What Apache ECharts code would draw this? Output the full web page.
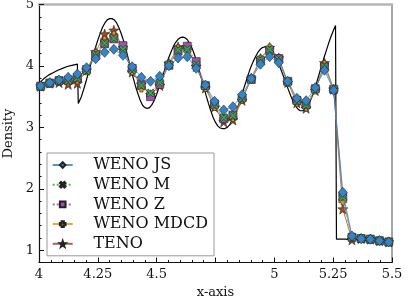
<!DOCTYPE html>
<html><head><meta charset="utf-8">
<script src="https://cdn.jsdelivr.net/npm/echarts@6/dist/echarts.min.js"></script>
<style>html,body{margin:0;padding:0;background:#fff}#c{width:415px;height:297px}</style>
</head><body><div id="c"></div>
<script>
const xs = [4.007,4.046,4.085,4.124,4.163,4.202,4.241,4.279,4.318,4.357,4.396,4.435,4.474,4.513,4.552,4.591,4.630,4.668,4.707,4.746,4.785,4.824,4.863,4.902,4.941,4.980,5.019,5.057,5.096,5.135,5.174,5.213,5.252,5.291,5.330,5.369,5.408,5.447,5.486];
const wenoJS = [3.673,3.727,3.771,3.815,3.869,3.971,4.118,4.222,4.271,4.173,3.987,3.815,3.750,3.831,4.004,4.129,4.150,3.961,3.690,3.424,3.283,3.336,3.532,3.792,4.027,4.150,4.053,3.750,3.473,3.434,3.646,3.929,3.603,1.943,1.231,1.187,1.178,1.155,1.134];
const wenoM = [3.67,3.72,3.76,3.76,3.80,3.92,4.19,4.37,4.45,4.27,3.93,3.68,3.56,3.73,4.02,4.26,4.27,4.02,3.67,3.36,3.16,3.19,3.47,3.78,4.10,4.27,4.11,3.74,3.43,3.36,3.62,3.99,3.62,1.86,1.21,1.19,1.18,1.155,1.135];
const wenoZ = [3.67,3.72,3.76,3.77,3.81,3.94,4.17,4.36,4.44,4.33,3.96,3.70,3.50,3.70,4.01,4.24,4.32,4.07,3.68,3.38,3.14,3.20,3.48,3.78,4.08,4.25,4.12,3.75,3.44,3.37,3.63,3.98,3.62,1.88,1.21,1.19,1.18,1.155,1.135];
const wenoMDCD = [3.67,3.72,3.75,3.74,3.77,3.92,4.20,4.42,4.50,4.28,3.92,3.64,3.52,3.70,4.03,4.28,4.29,4.00,3.65,3.34,3.13,3.16,3.46,3.79,4.11,4.29,4.12,3.73,3.41,3.33,3.61,4.02,3.62,1.80,1.20,1.19,1.18,1.155,1.135];
const teno = [3.67,3.72,3.73,3.70,3.717,3.93,4.23,4.52,4.58,4.30,3.90,3.70,3.53,3.68,4.04,4.31,4.31,3.99,3.64,3.33,3.09,3.12,3.44,3.80,4.12,4.30,4.13,3.73,3.40,3.31,3.60,4.05,3.62,1.67,1.17,1.19,1.18,1.155,1.135];
const exactX = [4.00,4.02,4.04,4.06,4.08,4.10,4.12,4.14,4.163,4.167,4.18,4.19,4.20,4.21,4.22,4.23,4.24,4.25,4.26,4.27,4.28,4.29,4.30,4.31,4.32,4.33,4.34,4.35,4.36,4.37,4.38,4.39,4.40,4.41,4.42,4.43,4.44,4.45,4.46,4.47,4.48,4.49,4.50,4.51,4.52,4.53,4.54,4.55,4.56,4.57,4.58,4.59,4.60,4.61,4.62,4.63,4.64,4.65,4.66,4.67,4.68,4.69,4.70,4.71,4.72,4.73,4.74,4.75,4.76,4.77,4.78,4.79,4.80,4.81,4.82,4.83,4.84,4.85,4.86,4.87,4.88,4.89,4.90,4.91,4.92,4.93,4.94,4.95,4.96,4.97,4.98,4.99,5.00,5.01,5.02,5.03,5.04,5.05,5.06,5.07,5.08,5.09,5.10,5.11,5.12,5.13,5.14,5.15,5.16,5.17,5.18,5.19,5.20,5.21,5.22,5.23,5.24,5.25,5.26,5.263,5.264,5.30,5.35,5.40,5.45,5.50];
const exactY = [3.72,3.79,3.85,3.89,3.93,3.96,3.99,4.01,4.03,3.39,3.50,3.62,3.75,3.89,4.03,4.17,4.30,4.42,4.53,4.63,4.70,4.75,4.77,4.77,4.75,4.70,4.62,4.52,4.40,4.26,4.11,3.96,3.81,3.67,3.55,3.44,3.36,3.32,3.31,3.32,3.37,3.44,3.54,3.65,3.77,3.89,4.01,4.12,4.22,4.31,4.38,4.43,4.46,4.47,4.46,4.43,4.37,4.29,4.19,4.07,3.94,3.80,3.66,3.52,3.39,3.27,3.16,3.08,3.02,2.99,2.98,2.98,3.00,3.04,3.10,3.18,3.28,3.39,3.51,3.63,3.75,3.87,3.98,4.07,4.15,4.22,4.27,4.30,4.31,4.31,4.29,4.25,4.19,4.11,4.02,3.92,3.82,3.71,3.61,3.51,3.42,3.35,3.30,3.27,3.27,3.29,3.34,3.41,3.50,3.61,3.73,3.86,3.99,4.12,4.24,4.36,4.47,4.57,4.66,4.69,1.18,1.18,1.17,1.16,1.15,1.14];
const xTickLabels = {'4':'4','4.25':'4.25','4.5':'4.5','4.75':'','5':'5','5.25':'5.25','5.5':'5.5'};
const yTickValues = [1,2,3,4,5];
const yMinorValues = [0.8,1.2,1.4,1.6,1.8,2.2,2.4,2.6,2.8,3.2,3.4,3.6,3.8,4.2,4.4,4.6,4.8];

const FONT = 'DejaVu Serif';
const pair = (a) => xs.map((x, i) => [x, a[i]]);
const STAR = 'path://M5,0 L6.18,3.38 L9.76,3.45 L6.9,5.62 L7.94,9.05 L5,7 L2.06,9.05 L3.1,5.62 L0.24,3.45 L3.82,3.38 Z';
const XMARK = 'path://M2,0 L5,3 L8,0 L10,2 L7,5 L10,8 L8,10 L5,7 L2,10 L0,8 L3,5 L0,2 Z';
const PLUS = 'path://M3,0 H7 V3 H10 V7 H7 V10 H3 V7 H0 V3 H3 Z';

function mk(name, data, color, symbol, size, ltype, z) {
  return {
    name, type: 'line', data: pair(data), symbol, symbolSize: size, z,
    showAllSymbol: true,
    itemStyle: {color, borderColor: '#222', borderWidth: 0.6},
    lineStyle: {color, width: 0.9, type: ltype, opacity: 0.85},
    emphasis: {disabled: true}, animation: false
  };
}

const chart = echarts.init(document.getElementById('c'), null, {renderer: 'canvas'});
chart.setOption({
  animation: false,
  backgroundColor: '#fff',
  grid: {left: 39, right: 23, top: 4.5, bottom: 34.5, containLabel: false, outerBoundsMode: 'none'},
  xAxis: [{
    type: 'value', min: 4, max: 5.5, interval: 0.25,
    name: 'x-axis', nameLocation: 'middle', nameGap: 16,
    nameTextStyle: {fontFamily: FONT, fontSize: 13, color: '#111'},
    axisLine: {lineStyle: {color: '#111', width: 1.2}},
    axisTick: {inside: true, length: 5, lineStyle: {color: '#111'}},
    minorTick: {show: true, splitNumber: 5, length: 2.5, lineStyle: {color: '#111'}},
    splitLine: {show: false},
    axisLabel: {fontFamily: FONT, fontSize: 13, color: '#111', margin: 6,
      formatter: v => { const k = String(+v.toFixed(2)); return k in xTickLabels ? xTickLabels[k] : k; }}
  }, {
    type: 'value', min: 4, max: 5.5, position: 'top',
    axisLine: {lineStyle: {color: '#b5b5b5', width: 2.5}},
    axisTick: {show: false}, axisLabel: {show: false}, splitLine: {show: false}
  }],
  yAxis: [{
    type: 'value', min: 0.8, max: 5,
    name: 'Density', nameLocation: 'middle', nameGap: 22,
    nameTextStyle: {fontFamily: FONT, fontSize: 13, color: '#111'},
    axisLine: {show: true, lineStyle: {color: '#111', width: 1.2}},
    axisTick: {show: true, inside: true, length: 5, customValues: yTickValues, lineStyle: {color: '#111'}},
    axisLabel: {fontFamily: FONT, fontSize: 13, color: '#111', margin: 5, customValues: yTickValues},
    splitLine: {show: false}
  }, {
    type: 'value', min: 0.8, max: 5, position: 'left',
    axisLine: {show: false},
    axisTick: {show: true, inside: true, length: 2.5, customValues: yMinorValues, lineStyle: {color: '#111'}},
    axisLabel: {show: false}, splitLine: {show: false}
  }, {
    type: 'value', min: 0.8, max: 5, position: 'right',
    axisLine: {show: true, lineStyle: {color: '#8a8a8a', width: 1.5}},
    axisTick: {show: false}, axisLabel: {show: false}, splitLine: {show: false}
  }],
  legend: {
    orient: 'vertical', left: 47, top: 153,
    data: ['WENO JS', 'WENO M', 'WENO Z', 'WENO MDCD', 'TENO'],
    itemWidth: 20, itemHeight: 7, itemGap: 3.7,
    padding: [4, 6, 4, 4.7],
    borderColor: '#999', borderWidth: 1, backgroundColor: 'rgba(255,255,255,0.85)',
    textStyle: {fontFamily: FONT, fontSize: 16, lineHeight: 16, color: '#111', padding: [0, 0, 0, 15.7]}
  },
  series: [
    {name: 'Exact', type: 'line', data: exactX.map((x, i) => [x, exactY[i]]), showSymbol: false, z: 0,
     lineStyle: {color: '#000', width: 1.2}, itemStyle: {color: '#000'}, emphasis: {disabled: true}},
    mk('TENO', teno, '#9a4b2a', STAR, 10, 'solid', 1),
    mk('WENO MDCD', wenoMDCD, '#ff8c1a', PLUS, 8, 'dashed', 2),
    mk('WENO Z', wenoZ, '#a24fb0', 'rect', 8, 'dotted', 3),
    mk('WENO M', wenoM, '#35a845', XMARK, 8, 'dotted', 4),
    mk('WENO JS', wenoJS, '#3484c8', 'diamond', [9, 10], 'solid', 5)
  ]
});
</script></body></html>
